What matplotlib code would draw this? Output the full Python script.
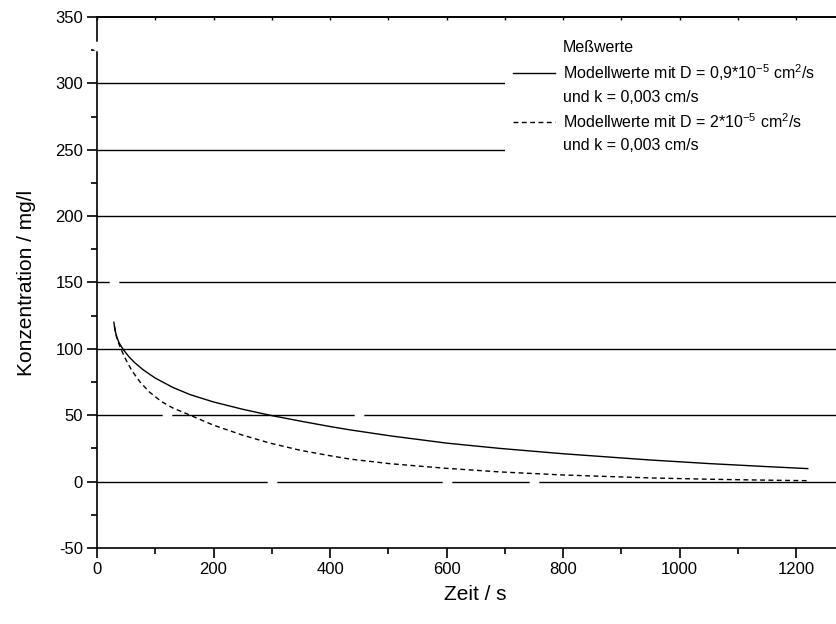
import matplotlib
matplotlib.use("Agg")
import matplotlib.pyplot as plt
from matplotlib.lines import Line2D
from matplotlib.ticker import MultipleLocator

plt.rcParams['font.family'] = ['Liberation Sans', 'DejaVu Sans']
plt.rcParams['axes.unicode_minus'] = False
plt.rcParams['mathtext.default'] = 'regular'

# Meßwerte (white symbols)
t_mess = [0, 30, 120, 300, 450, 600, 750]
c_mess = [328, 150, 50, 0, 50, 0, 0]

# Modell, D = 0,9e-5 cm2/s
t_mod1 = [29, 31, 34, 38, 45, 55, 65, 80, 100, 130, 160, 200, 250, 297, 350, 400,
          434, 503, 600, 692, 800, 949, 1050, 1150, 1220]
c_mod1 = [120, 114, 109, 104.5, 99.5, 94, 89.5, 84, 78, 71, 65.5, 60, 54.5, 50, 45.5, 41.5,
          39, 34.5, 29, 25, 21, 16.3, 13.6, 11.3, 9.8]

# Modell, D = 2e-5 cm2/s
t_mod2 = [30, 33, 36, 42, 50, 60, 74, 90, 110, 130, 160, 200, 250, 297, 350, 400,
          434, 503, 600, 692, 800, 949, 1050, 1150, 1220]
c_mod2 = [117, 110, 105.5, 99, 91.5, 83.5, 75, 67.5, 60.5, 55.5, 50, 42.5, 35, 29, 23.5, 19.5,
          17, 13.5, 10, 7.3, 5, 2.8, 1.8, 1.1, 0.7]

grid_levels = [0, 50, 100, 150, 200, 250, 300]

fig = plt.figure(figsize=(8.36, 6.24), dpi=100)
ax = fig.add_axes([0.116, 0.1218, 0.906, 0.851])

for g in grid_levels:
    ax.axhline(g, color='black', lw=1.0, zorder=1)

line1, = ax.plot(t_mod1, c_mod1, color='black', lw=1.0, zorder=2)
line2, = ax.plot(t_mod2, c_mod2, color='black', lw=1.0, ls=(0, (3.5, 2.5)), zorder=2)
mess, = ax.plot(t_mess, c_mess, ls='none', marker='o', ms=6, mfc='white', mec='white',
                zorder=4, clip_on=False)

ax.set_xlim(0, 1300)
ax.set_ylim(-50, 350)
ax.xaxis.set_major_locator(MultipleLocator(200))
ax.xaxis.set_minor_locator(MultipleLocator(100))
ax.yaxis.set_major_locator(MultipleLocator(50))
ax.yaxis.set_minor_locator(MultipleLocator(25))

ax.spines['right'].set_visible(False)
for s in ['left', 'bottom', 'top']:
    ax.spines[s].set_linewidth(1.2)

ax.tick_params(axis='both', which='major', direction='out', length=7.5, width=1.2,
               labelsize=12, pad=2.5)
ax.tick_params(axis='both', which='minor', direction='out', length=4, width=1.2)

# small inward ticks along the top edge
top = ax.secondary_xaxis('top')
top.xaxis.set_major_locator(MultipleLocator(100))
top.tick_params(direction='in', length=2.5, width=1.0, labeltop=False)
top.spines['top'].set_linewidth(1.2)

ax.set_xlabel('Zeit / s', fontsize=15, labelpad=6)
ax.set_ylabel('Konzentration / mg/l', fontsize=15, labelpad=14)

blank = Line2D([], [], color='none')
handles = [mess, line1, blank, line2, blank]
labels = ['Meßwerte',
          'Modellwerte mit D = 0,9*10$^{-5}$ cm$^{2}$/s',
          'und k = 0,003 cm/s',
          'Modellwerte mit D = 2*10$^{-5}$ cm$^{2}$/s',
          'und k = 0,003 cm/s']
leg = ax.legend(handles, labels, loc='upper left', mode='expand',
                bbox_to_anchor=(0.539, 0.0, 0.47, 0.972), borderaxespad=0,
                fontsize=11.5, frameon=True, fancybox=False, handlelength=2.6,
                handletextpad=0.5, labelspacing=0.45, borderpad=0.5)
leg.get_frame().set_edgecolor('none')
leg.get_frame().set_facecolor('white')
leg.get_frame().set_alpha(1)
leg.set_zorder(5)

fig.savefig('out.png', dpi=100)
